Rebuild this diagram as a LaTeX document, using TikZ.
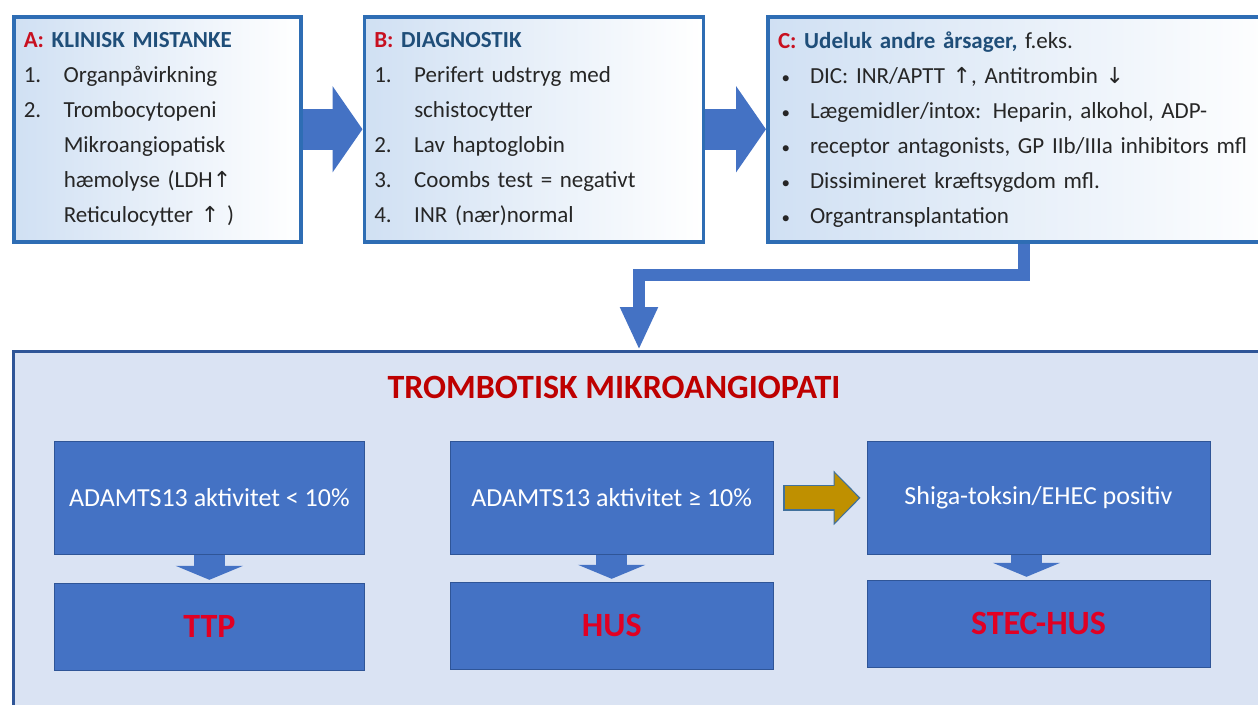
\documentclass[tikz,border=0pt]{standalone}
\usepackage{fontspec}
\setmainfont{Carlito}
\newfontfamily\arrowfont{DejaVu Sans}
\usepackage{xcolor}
\usetikzlibrary{arrows.meta,positioning}

\definecolor{frameblue}{RGB}{46,109,180}
\definecolor{shadeblue}{RGB}{208,224,243}
\definecolor{titleblue}{RGB}{31,78,121}
\definecolor{letterred}{RGB}{200,16,32}
\definecolor{textgray}{RGB}{38,38,38}
\definecolor{flowblue}{RGB}{68,114,196}
\definecolor{panelblue}{RGB}{218,227,243}
\definecolor{panelframe}{RGB}{47,85,151}
\definecolor{tmared}{RGB}{190,0,0}
\definecolor{dxred}{RGB}{225,0,35}
\definecolor{gold}{RGB}{191,144,0}
\definecolor{goldframe}{RGB}{65,113,156}

\newcommand\upar{{\arrowfont\fontsize{22}{35}\selectfont ↑}}
\newcommand\downar{{\arrowfont\fontsize{22}{35}\selectfont ↓}}
\newcommand\numitem[1]{\makebox[40pt][l]{#1}}
\newcommand\bulitem{\makebox[32pt][l]{\hspace*{3.5pt}{\fontsize{17}{35}\selectfont •}}}

\begin{document}
\begin{tikzpicture}[
  x=1pt, y=-1pt,
  font=\fontsize{23}{35}\selectfont,
  topbox/.style={draw=frameblue, line width=3.5pt, left color=shadeblue, right color=white,
    text=textgray, align=left, inner xsep=10pt, minimum height=225pt},
  panel/.style={draw=panelframe, line width=3pt, fill=panelblue},
  testbox/.style={draw=panelframe, line width=0.8pt, fill=flowblue, text=white,
    font=\fontsize{26}{30}\selectfont, minimum height=113pt},
  dxbox/.style={testbox, text=dxred, font=\fontsize{34}{40}\selectfont\bfseries, minimum height=87pt},
  bigarrow/.style={draw=flowblue, line width=41pt, -{Triangle[width=85pt,length=30pt]}},
  elbow/.style={draw=flowblue, line width=12pt, -{Triangle[width=35pt,length=43pt]}},
  downarrow/.style={draw=flowblue, line width=31pt, -{Triangle[width=67pt,length=14pt]}, shorten >=3pt},
  goldarrow/.style={draw=gold, line width=23pt, -{Triangle[width=48pt,length=24pt]},
    shorten <=11pt, shorten >=8pt,
    preaction={draw=goldframe, line width=26pt, -{Triangle[width=53pt,length=27pt]},
      shorten <=9.5pt, shorten >=6pt}}
]
\useasboundingbox (0,0) rectangle (1258,704);
\clip (0,0) rectangle (1258,704);

% top row
\node[topbox, anchor=north west, minimum width=287pt, text width=267pt] (a) at (12,15)
  {{\bfseries\color{letterred}A:} {\bfseries\color{titleblue}KLINISK MISTANKE}\\
   \numitem{1.}Organpåvirkning\\
   \numitem{2.}Trombocytopeni\\
   \hspace*{40pt}Mikroangiopatisk\\
   \hspace*{40pt}hæmolyse (LDH\upar\\
   \hspace*{40pt}Reticulocytter \upar\ )};
\node[topbox, right=60pt of a, minimum width=339pt, text width=319pt] (b)
  {{\bfseries\color{letterred}B:} {\bfseries\color{titleblue}DIAGNOSTIK}\\
   \numitem{1.}Perifert udstryg med\\
   \hspace*{40pt}schistocytter\\
   \numitem{2.}Lav haptoglobin\\
   \numitem{3.}Coombs test = negativt\\
   \numitem{4.}INR (nær)normal};
\node[topbox, right=61pt of b, minimum width=512.5pt, text width=492pt] (c)
  {{\bfseries\color{letterred}C:} {\bfseries\color{titleblue}Udeluk andre årsager,} f.eks.\\
   \bulitem DIC: INR/APTT \upar, Antitrombin \downar\\
   \bulitem Lægemidler/intox: Heparin, alkohol, ADP-\\
   \bulitem receptor antagonists, GP IIb/IIIa inhibitors mfl\\
   \bulitem Dissimineret kræftsygdom mfl.\\
   \bulitem Organtransplantation};

\draw[bigarrow] (a) -- (b);
\draw[bigarrow] (b) -- (c);

% lower panel
\node[panel, anchor=north west, minimum width=1251pt, minimum height=362pt] (tma) at (12,350) {};
\node[font=\fontsize{34}{40}\selectfont\bfseries, text=tmared] (tmatitle) at (614,387)
  {TROMBOTISK MIKROANGIOPATI};
\draw[elbow] (c.south) -- ++(0,31.5) -| (tma.north);

\node[testbox, anchor=north west, minimum width=310pt] (ttpq) at (54,441) {ADAMTS13 aktivitet < 10\%};
\node[testbox, right=85pt of ttpq, minimum width=323pt] (husq) {ADAMTS13 aktivitet ≥ 10\%};
\node[testbox, right=93pt of husq, minimum width=343pt] (shiga) {Shiga-toksin/EHEC positiv};
\node[dxbox, below=28pt of ttpq, minimum width=310pt] (ttp) {TTP};
\node[dxbox, below=27pt of husq, minimum width=323pt] (hus) {HUS};
\node[dxbox, below=25pt of shiga, minimum width=343pt] (stec) {STEC-HUS};

\draw[downarrow] (ttpq) -- (ttp);
\draw[downarrow] (husq) -- (hus);
\draw[downarrow] ([xshift=-12pt]shiga.south) -- ([xshift=-12pt]stec.north);
\draw[goldarrow] (husq) -- (shiga);

\end{tikzpicture}
\end{document}
